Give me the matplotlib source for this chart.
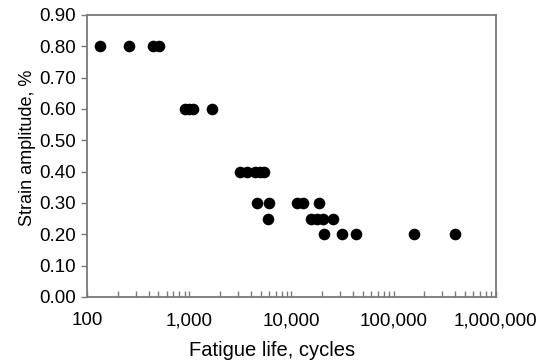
import matplotlib
matplotlib.use("Agg")
import matplotlib.pyplot as plt
from matplotlib.ticker import FuncFormatter, LogLocator, MultipleLocator

# fatigue test data
cycles_080 = [134, 259, 438, 504]
cycles_060 = [908, 995, 1089, 1667]
cycles_040 = [3133, 3672, 4397, 4918, 5384]
cycles_030 = [4634, 6030, 11250, 12880, 18710]
cycles_025 = [5890, 15420, 17880, 20450, 25290]
cycles_020 = [20800, 30970, 42740, 157800, 400000]

strain_levels = [0.80, 0.60, 0.40, 0.30, 0.25, 0.20]
cycle_groups = [cycles_080, cycles_060, cycles_040, cycles_030, cycles_025, cycles_020]

plt.rcParams["font.family"] = ["Liberation Sans", "DejaVu Sans"]
grey = "#7a7a7a"

fig = plt.figure(figsize=(5.38, 3.62), dpi=100)
ax = fig.add_axes([0.1617, 0.1796, 0.760, 0.779])

for strain, cycles in zip(strain_levels, cycle_groups):
    ax.scatter(cycles, [strain] * len(cycles), s=70, color="black", linewidths=0, zorder=3)

ax.set_xscale("log")
ax.set_xlim(100, 1_000_000)
ax.set_ylim(0, 0.9)
ax.yaxis.set_major_locator(MultipleLocator(0.1))
ax.yaxis.set_major_formatter(FuncFormatter(lambda v, _: f"{v:.2f}"))
ax.xaxis.set_major_locator(LogLocator(base=10))
ax.xaxis.set_minor_locator(LogLocator(base=10, subs=range(2, 10)))
ax.xaxis.set_major_formatter(FuncFormatter(lambda v, _: f"{v:,.0f}"))

for spine in ax.spines.values():
    spine.set_color(grey)
    spine.set_linewidth(1.3)

ax.tick_params(axis="y", direction="out", length=4, width=1, color=grey, labelsize=13.5, pad=4)
ax.tick_params(axis="x", which="both", direction="in", length=4, width=1, color=grey,
               labelsize=13.5, pad=11)
ax.tick_params(axis="x", which="minor", labelbottom=False)

ax.set_xlabel("Fatigue life, cycles", fontsize=14.5)
ax.xaxis.set_label_coords(0.452, -0.155)
ax.set_ylabel("Strain amplitude, %", fontsize=13)
ax.yaxis.set_label_coords(-0.125, 0.53)

fig.savefig("out.png", dpi=100)
